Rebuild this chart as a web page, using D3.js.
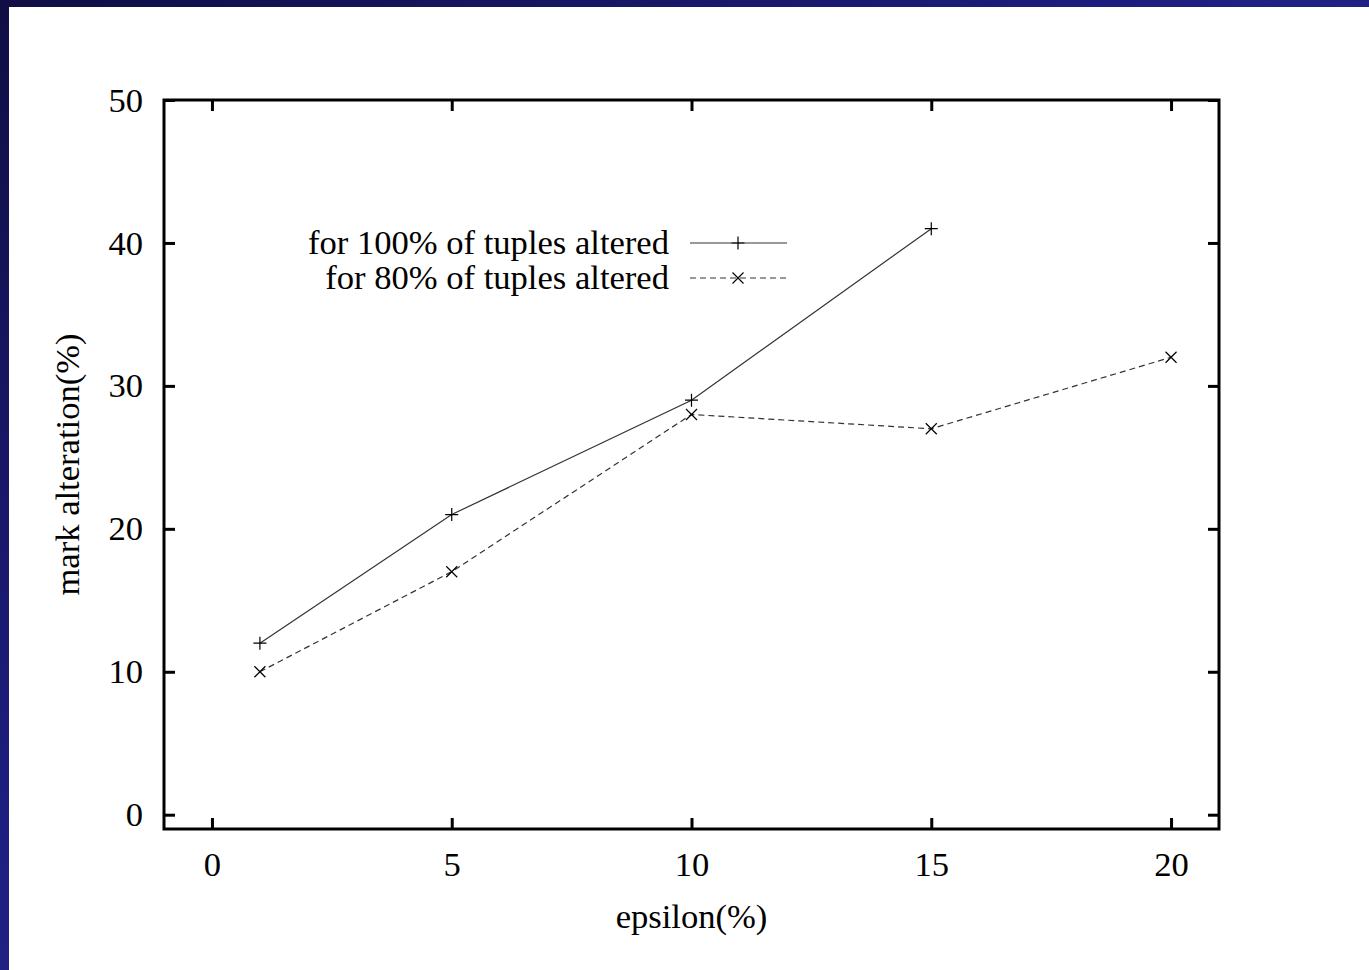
<!DOCTYPE html>
<html>
<head>
<meta charset="utf-8">
<script src="https://cdn.jsdelivr.net/npm/d3@7"></script>
<style>
  html, body { margin: 0; padding: 0; background: #fff; }
  svg { display: block; }
  text { font-family: "Liberation Serif", "Times New Roman", serif; fill: #000; }
</style>
</head>
<body>
<svg id="chart" width="1369" height="970"></svg>
<script>
// epsilon (%) values on the x axis
const epsilon100 = [1, 5, 10, 15];
const alteration100 = [12, 21, 29, 41];
const epsilon80 = [1, 5, 10, 15, 20];
const alteration80 = [10, 17, 28, 27, 32];

const seriesNames = ["for 100% of tuples altered", "for 80% of tuples altered"];
const xTicks = [0, 5, 10, 15, 20];
const yTicks = [0, 10, 20, 30, 40, 50];
const xTitle = "epsilon(%)";
const yTitle = "mark alteration(%)";

const W = 1369, H = 970;
const svg = d3.select("#chart");

// slide-style frame: dark blue gradient strip along top and left edges
const defs = svg.append("defs");
const grad = defs.append("linearGradient").attr("id", "frameGrad")
  .attr("x1", "0").attr("y1", "0").attr("x2", "1").attr("y2", "1");
grad.append("stop").attr("offset", "0").attr("stop-color", "#100e44");
grad.append("stop").attr("offset", "0.45").attr("stop-color", "#1f1f84");
grad.append("stop").attr("offset", "1").attr("stop-color", "#26268f");
svg.append("rect").attr("width", W).attr("height", H).attr("fill", "url(#frameGrad)");
svg.append("rect").attr("x", 9).attr("y", 7).attr("width", W - 9).attr("height", H - 7).attr("fill", "#fff");

const plot = { left: 164, right: 1219, top: 100, bottom: 829 };
const x = d3.scaleLinear().domain([-1, 21]).range([plot.left, plot.right]);
const y = d3.scaleLinear().domain([-1, 50]).range([plot.bottom, plot.top]);

const fontSize = 34.6;
const tickLen = 11;

// inward ticks on all four sides
const g = svg.append("g");
const axStyle = sel => {
  sel.select(".domain").remove();
  sel.selectAll(".tick line").attr("stroke", "#000").attr("stroke-width", 3);
};
g.append("g").attr("transform", `translate(0,${plot.bottom})`)
  .call(d3.axisBottom(x).tickValues(xTicks).tickSize(-tickLen).tickPadding(22).tickFormat(d3.format("d")))
  .call(axStyle)
  .call(s => s.selectAll("text").attr("font-size", fontSize).attr("dy", "0.71em"));
g.append("g").attr("transform", `translate(0,${plot.top})`)
  .call(d3.axisTop(x).tickValues(xTicks).tickSize(-tickLen).tickFormat(""))
  .call(axStyle);
g.append("g").attr("transform", `translate(${plot.left},0)`)
  .call(d3.axisLeft(y).tickValues(yTicks).tickSize(-tickLen).tickPadding(21).tickFormat(d3.format("d")))
  .call(axStyle)
  .call(s => s.selectAll("text").attr("font-size", fontSize));
g.append("g").attr("transform", `translate(${plot.right},0)`)
  .call(d3.axisRight(y).tickValues(yTicks).tickSize(-tickLen).tickFormat(""))
  .call(axStyle);

// frame of the plot area
svg.append("rect")
  .attr("x", plot.left).attr("y", plot.top)
  .attr("width", plot.right - plot.left).attr("height", plot.bottom - plot.top)
  .attr("fill", "none").attr("stroke", "#000").attr("stroke-width", 3);

// axis titles
svg.append("text").attr("x", x(10)).attr("y", 928)
  .attr("text-anchor", "middle").attr("font-size", fontSize).text(xTitle);
svg.append("text")
  .attr("transform", `translate(79,${(plot.top + plot.bottom) / 2}) rotate(-90)`)
  .attr("text-anchor", "middle").attr("font-size", fontSize).text(yTitle);

// markers
const plusPath = s => `M${-s},0H${s}M0,${-s}V${s}`;
const crossPath = s => `M${-s},${-s}L${s},${s}M${-s},${s}L${s},${-s}`;

const series = [
  { xs: epsilon100, ys: alteration100, dash: null, marker: plusPath(6.5) },
  { xs: epsilon80, ys: alteration80, dash: "6,4", marker: crossPath(5.5) }
];

const line = d3.line().x(d => x(d[0])).y(d => y(d[1]));
series.forEach(s => {
  const pts = s.xs.map((v, i) => [v, s.ys[i]]);
  svg.append("path").datum(pts).attr("d", line)
    .attr("fill", "none").attr("stroke", "#333").attr("stroke-width", 1.2)
    .attr("stroke-dasharray", s.dash);
  svg.append("g").selectAll("path").data(pts).join("path")
    .attr("transform", d => `translate(${x(d[0])},${y(d[1])})`)
    .attr("d", s.marker).attr("stroke", "#000").attr("stroke-width", 1.2).attr("fill", "none");
});

// legend
const legend = svg.append("g");
const legendRows = [243, 278];
series.forEach((s, i) => {
  const ly = legendRows[i];
  legend.append("text").attr("x", 669).attr("y", ly).attr("dy", "0.33em")
    .attr("text-anchor", "end").attr("font-size", fontSize).text(seriesNames[i]);
  legend.append("line").attr("x1", 690).attr("x2", 787).attr("y1", ly).attr("y2", ly)
    .attr("stroke", "#333").attr("stroke-width", 1.2).attr("stroke-dasharray", s.dash);
  legend.append("path").attr("transform", `translate(738,${ly})`)
    .attr("d", s.marker).attr("stroke", "#000").attr("stroke-width", 1.2).attr("fill", "none");
});
</script>
</body>
</html>
